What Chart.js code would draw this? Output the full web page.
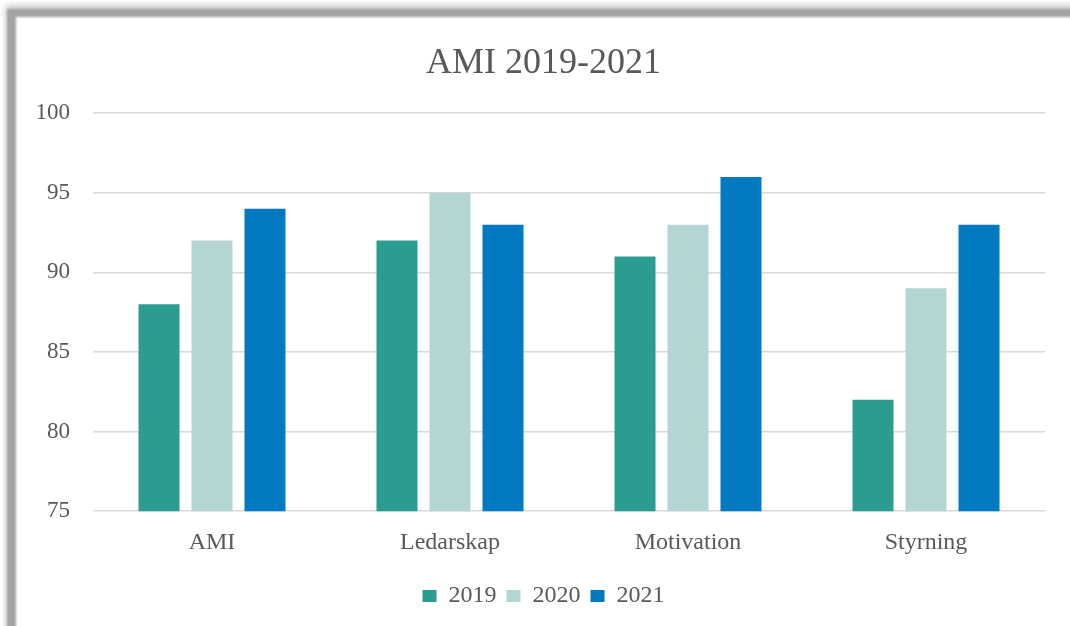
<!DOCTYPE html>
<html>
<head>
<meta charset="utf-8">
<script src="https://cdn.jsdelivr.net/npm/chart.js@4.4.1/dist/chart.umd.min.js"></script>
<style>
  html, body { margin: 0; padding: 0; background: #ffffff; width: 1070px; height: 626px; overflow: hidden; }
  #frame { position: absolute; left: 7px; top: 9px; width: 1120px; height: 700px;
           border-left: 9px solid #a3a3a3; border-top: 8px solid #a3a3a3;
           box-shadow: -1px -3px 6px rgba(0,0,0,0.25); filter: blur(1.2px); }
  #wrap { position: absolute; left: 0; top: 0; width: 1070px; height: 626px; }
</style>
</head>
<body>
<div id="frame"></div>
<div id="wrap"><canvas id="c" width="1070" height="626"></canvas></div>
<script>
const chartTitle = "AMI 2019-2021";
const categories = ["AMI", "Ledarskap", "Motivation", "Styrning"];
const seriesNames = ["2019", "2020", "2021"];
const values2019 = [88, 92, 91, 82];
const values2020 = [92, 95, 93, 89];
const values2021 = [94, 93, 96, 93];
const yTicks = [75, 80, 85, 90, 95, 100];

const colors = ["#2b9d90", "#b3d5d4", "#0279c1"];
const serif = "'Liberation Serif', 'Times New Roman', serif";
const textColor = "#595959";

new Chart(document.getElementById("c"), {
  type: "bar",
  data: {
    labels: categories,
    datasets: [values2019, values2020, values2021].map((v, i) => ({
      label: seriesNames[i],
      data: v,
      backgroundColor: colors[i],
      borderWidth: 0,
      categoryPercentage: 0.668,
      barPercentage: 0.774
    }))
  },
  options: {
    responsive: false,
    animation: false,
    devicePixelRatio: 1,
    layout: { padding: { left: 17, top: 0, right: 0, bottom: 8 } },
    plugins: {
      title: {
        display: true, text: chartTitle, color: textColor,
        font: { family: serif, size: 36, weight: "normal" },
        padding: { top: 42, bottom: 28 }
      },
      legend: {
        position: "bottom",
        labels: {
          color: textColor, font: { family: serif, size: 24 },
          boxWidth: 14, boxHeight: 12, padding: 10
        }
      },
      tooltip: { enabled: false }
    },
    scales: {
      x: {
        grid: { display: false, drawTicks: false },
        border: { display: false },
        ticks: { color: textColor, font: { family: serif, size: 24 }, padding: 17 }
      },
      y: {
        min: 75, max: 100,
        afterBuildTicks: s => { s.ticks = yTicks.map(v => ({ value: v })); },
        afterFit: s => { s.width = 76; },
        grid: { color: "#d9d9d9", lineWidth: 1.5, drawTicks: false },
        border: { display: false },
        ticks: { color: textColor, font: { family: serif, size: 23 }, padding: 23 }
      },
      y2: {
        position: "right", display: true,
        grid: { display: false, drawTicks: false },
        border: { display: false },
        ticks: { display: false },
        afterFit: s => { s.width = 25; }
      }
    }
  }
});
</script>
</body>
</html>
